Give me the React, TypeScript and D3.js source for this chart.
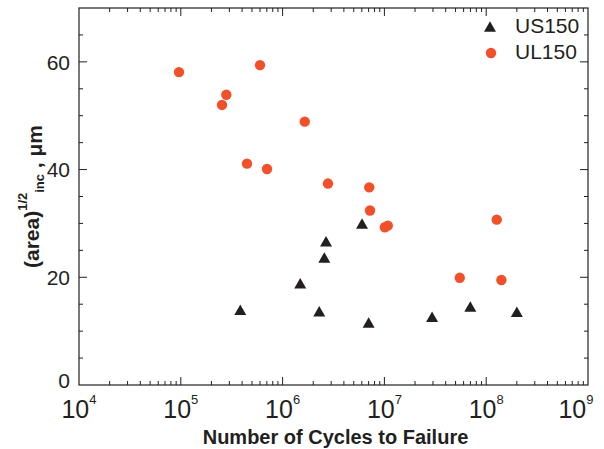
import React from 'react'
import * as d3 from 'd3'

// cycles to failure / (area)^1/2 inclusion size in µm
const us150Cycles = [6.03e6, 2.67e6, 2.57e6, 1.49e6, 3.84e5, 2.29e6, 7.0e6, 2.94e7, 6.98e7, 2.0e8]
const us150Size = [29.8, 26.5, 23.5, 18.7, 13.8, 13.5, 11.4, 12.5, 14.4, 13.4]

const ul150Cycles = [9.6e4, 6.0e5, 2.8e5, 2.54e5, 1.65e6, 4.47e5, 7.03e5, 2.79e6, 7.1e6, 7.22e6, 1.01e7, 1.08e7, 5.5e7, 1.27e8, 1.41e8]
const ul150Size = [58.1, 59.4, 53.9, 52.0, 48.9, 41.1, 40.1, 37.4, 36.7, 32.4, 29.3, 29.6, 19.9, 30.7, 19.5]

const xMajor = [4, 5, 6, 7, 8, 9]
const yMajor = [0, 20, 40, 60]

const width = 604
const height = 449
const margin = { left: 79, top: 8, right: 16, bottom: 64 }

const orange = '#f1502a'
const dark = '#231f20'
const font = 'Liberation Sans, Arial, Helvetica, sans-serif'

// flat-ish triangle centred on 0,0
function triangle(w: number, h: number) {
  const p = d3.path()
  p.moveTo(0, -h * 0.6)
  p.lineTo(w / 2, h * 0.4)
  p.lineTo(-w / 2, h * 0.4)
  p.closePath()
  return p.toString()
}

export default function App() {
  const x = d3.scaleLog().domain([1e4, 1e9]).range([margin.left, width - margin.right])
  const y = d3.scaleLinear().domain([0, 70]).range([height - margin.bottom, margin.top])

  const x0 = x.range()[0], x1 = x.range()[1]
  const y0 = y.range()[0], y1 = y.range()[1]

  const xTicks = x.ticks().filter(t => t > 1e4 && t < 1e9)
  const isMajorX = (t: number) => Math.abs(Math.log10(t) - Math.round(Math.log10(t))) < 1e-6
  const yTicks = d3.range(5, 70, 5)

  const tri = triangle(12, 10.5)

  return (
    <svg width={width} height={height} style={{ position: 'absolute', left: 0, top: 0 }} fontFamily={font}>
      <rect x={0} y={0} width={width} height={height} fill='white' />

      {/* ticks, mirrored and pointing inward */}
      <g stroke={dark} strokeWidth={1}>
        {xTicks.map((t, i) => {
          const len = isMajorX(t) ? 8 : 4
          return (
            <g key={'xt' + i}>
              <line x1={x(t)} x2={x(t)} y1={y0} y2={y0 - len} />
              <line x1={x(t)} x2={x(t)} y1={y1} y2={y1 + len} />
            </g>
          )
        })}
        {yTicks.map((t, i) => {
          const len = yMajor.includes(t) ? 8 : 4
          return (
            <g key={'yt' + i}>
              <line x1={x0} x2={x0 + len} y1={y(t)} y2={y(t)} />
              <line x1={x1} x2={x1 - len} y1={y(t)} y2={y(t)} />
            </g>
          )
        })}
      </g>
      <rect x={x0} y={y1} width={x1 - x0} height={y0 - y1} fill='none' stroke={dark} strokeWidth={1.2} />

      {/* x tick labels */}
      {xMajor.map(p => (
        <text key={'xl' + p} x={x(Math.pow(10, p)) + (p === 9 ? -12 : 0)} y={y0 + 33} textAnchor='middle' fontSize={25} fill={dark}>
          10<tspan dy={-14} fontSize={13}>{p}</tspan>
        </text>
      ))}

      {/* y tick labels */}
      {yMajor.map(v => (
        <text key={'yl' + v} x={70} y={y(v) + (v === 0 ? -4 : 0.5)} dy='0.35em' textAnchor='end' fontSize={21} fill={dark}>
          {v}
        </text>
      ))}

      {/* axis titles */}
      <text x={(x0 + x1) / 2 + 2} y={444} textAnchor='middle' fontSize={20} fontWeight='bold' fill={dark}>
        Number of Cycles to Failure
      </text>
      <text transform={`translate(39, ${(y0 + y1) / 2}) rotate(-90)`} textAnchor='middle' fontSize={21} fontWeight='bold' fill={dark}>
        (area)<tspan dy={-12} fontSize={13}>1/2</tspan><tspan dy={17} fontSize={13}>inc</tspan><tspan dy={-2}> , μm</tspan>
      </text>

      {/* data */}
      {ul150Cycles.map((c, i) => (
        <circle key={'ul' + i} cx={x(c)} cy={y(ul150Size[i])} r={5.2} fill={orange} />
      ))}
      {us150Cycles.map((c, i) => (
        <path key={'us' + i} d={tri} transform={`translate(${x(c)},${y(us150Size[i])})`} fill={dark} />
      ))}

      {/* legend */}
      <path d={tri} transform='translate(490,27.5)' fill={dark} />
      <text x={515} y={26} dy='0.35em' fontSize={21} fill={dark}>US150</text>
      <circle cx={491} cy={53} r={5.2} fill={orange} />
      <text x={515} y={52} dy='0.35em' fontSize={21} fill={dark}>UL150</text>
    </svg>
  )
}
